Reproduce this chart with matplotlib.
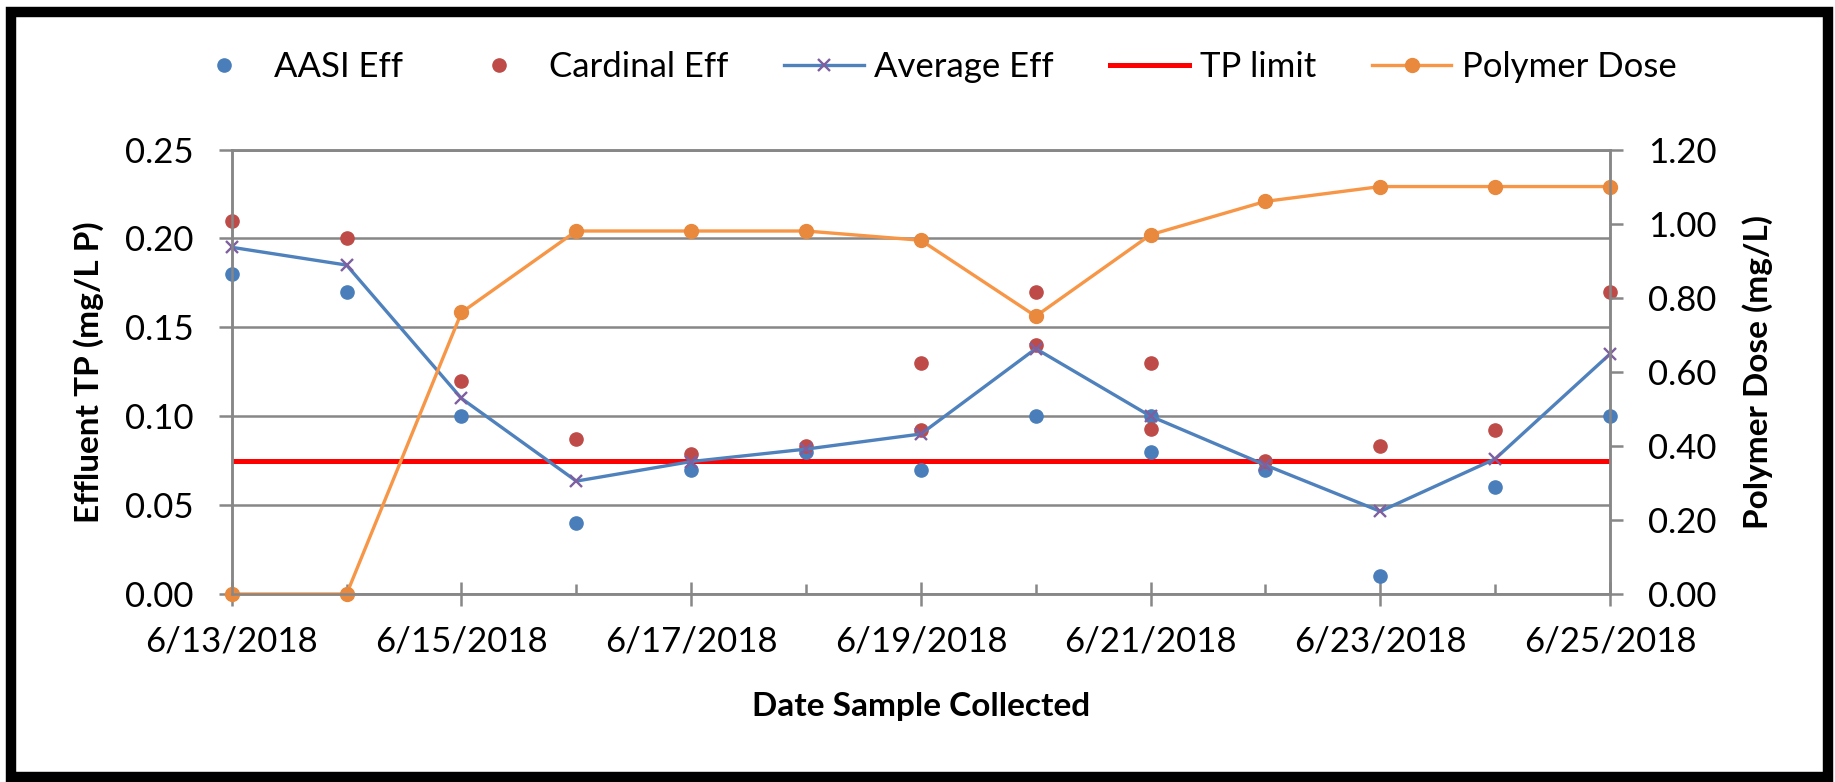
import matplotlib
matplotlib.use('Agg')
import matplotlib.pyplot as plt
import matplotlib.dates as mdates
from matplotlib.patches import Rectangle
from matplotlib.ticker import FuncFormatter, MultipleLocator
import pandas as pd

plt.rcParams['font.family'] = ['Lato', 'DejaVu Sans']

# sample dates (daily)
days = pd.to_datetime(['2018-06-13', '2018-06-14', '2018-06-15', '2018-06-16', '2018-06-17',
                       '2018-06-18', '2018-06-19', '2018-06-20', '2018-06-21', '2018-06-22',
                       '2018-06-23', '2018-06-24', '2018-06-25'])

# AASI effluent TP (6/21 has two samples)
aasi_dates = pd.to_datetime(['2018-06-13', '2018-06-14', '2018-06-15', '2018-06-16', '2018-06-17',
                             '2018-06-18', '2018-06-19', '2018-06-20', '2018-06-21', '2018-06-21',
                             '2018-06-22', '2018-06-23', '2018-06-24', '2018-06-25'])
aasi_vals = [0.18, 0.17, 0.10, 0.04, 0.07, 0.08, 0.07, 0.10, 0.10, 0.08, 0.07, 0.01, 0.06, 0.10]

# Cardinal effluent TP (two samples on 6/19, 6/20, 6/21)
card_dates = pd.to_datetime(['2018-06-13', '2018-06-14', '2018-06-15', '2018-06-16', '2018-06-17',
                             '2018-06-18', '2018-06-19', '2018-06-19', '2018-06-20', '2018-06-20',
                             '2018-06-21', '2018-06-21', '2018-06-22', '2018-06-23', '2018-06-24',
                             '2018-06-25'])
card_vals = [0.21, 0.20, 0.12, 0.087, 0.079, 0.083, 0.13, 0.092, 0.17, 0.14,
             0.13, 0.093, 0.075, 0.083, 0.092, 0.17]

avg_vals = [0.195, 0.185, 0.11, 0.0635, 0.0745, 0.0815, 0.09, 0.138, 0.10, 0.0725, 0.0465, 0.076, 0.135]
tp_limit = 0.075
polymer = [0.0, 0.0, 0.76, 0.98, 0.98, 0.98, 0.955, 0.75, 0.97, 1.06, 1.10, 1.10, 1.10]

grid_c = '#878787'
fs = 25

fig = plt.figure(figsize=(18.35, 7.82), dpi=100)
ax = fig.add_axes([0.1263, 0.2404, 0.7511, 0.5684])
ax2 = ax.twinx()

ax.plot([days[0], days[-1]], [tp_limit, tp_limit], color='#FF0000', lw=3.6, zorder=2, label='TP limit')
ax.plot(aasi_dates, aasi_vals, 'o', color='#4A7EBB', ms=9.5, zorder=3, clip_on=False, label='AASI Eff')
ax.plot(card_dates, card_vals, 'o', color='#BE4B48', ms=9.5, zorder=3, clip_on=False, label='Cardinal Eff')
ax.plot(days, avg_vals, '-', color='#4F81BD', lw=2.4, marker='x', ms=9, mew=1.7,
        mec='#7E5FA0', zorder=4, clip_on=False, label='Average Eff')
ax2.plot(days, polymer, '-', color='#F79646', lw=2.4, marker='o', ms=10, mfc='#E8893D',
         mec='#E8893D', clip_on=False, label='Polymer Dose')

ax.set_xlim(days[0], days[-1])
ax.set_ylim(0, 0.25)
ax2.set_ylim(0, 1.2)
ax.yaxis.set_major_locator(MultipleLocator(0.05))
ax2.yaxis.set_major_locator(MultipleLocator(0.2))
ax.yaxis.set_major_formatter(FuncFormatter(lambda v, p: f'{v:.2f}'))
ax2.yaxis.set_major_formatter(FuncFormatter(lambda v, p: f'{v:.2f}'))

ax.xaxis.set_major_locator(mdates.DayLocator(bymonthday=[13, 15, 17, 19, 21, 23, 25]))
ax.xaxis.set_minor_locator(mdates.DayLocator())
ax.xaxis.set_major_formatter(FuncFormatter(
    lambda v, p: '{0}/{1}/{2}'.format(mdates.num2date(v).month, mdates.num2date(v).day, mdates.num2date(v).year)))

ax.grid(axis='y', color=grid_c, lw=1.8)
ax.set_axisbelow(True)
for a in (ax, ax2):
    for s in a.spines.values():
        s.set_color(grid_c)
        s.set_linewidth(1.8)
ax.tick_params(axis='y', direction='out', length=9.5, width=1.8, color=grid_c, labelsize=fs, pad=18)
ax2.tick_params(axis='y', direction='out', length=9.5, width=1.8, color=grid_c, labelsize=fs, pad=18)
ax.tick_params(axis='x', which='major', direction='inout', length=17, width=1.8, color=grid_c,
               labelsize=fs, pad=14)
ax.tick_params(axis='x', which='minor', direction='in', length=7.5, width=1.8, color=grid_c)

ax.set_ylabel('Effluent TP (mg/L P)', fontsize=24, fontweight='bold', va='center')
ax.yaxis.set_label_coords(-0.104, 0.5)
ax2.set_ylabel('Polymer Dose (mg/L)', fontsize=24, fontweight='bold', va='center', rotation=90)
ax2.yaxis.set_label_coords(1.107, 0.5)
ax.set_xlabel('Date Sample Collected', fontsize=24, fontweight='bold', va='center')
ax.xaxis.set_label_coords(0.5, -0.254)

h1, l1 = ax.get_legend_handles_labels()
h2, l2 = ax2.get_legend_handles_labels()
hd = dict(zip(l1 + l2, h1 + h2))
order = ['AASI Eff', 'Cardinal Eff', 'Average Eff', 'TP limit', 'Polymer Dose']
fig.legend([hd[k] for k in order], order, loc='center', bbox_to_anchor=(0.507, 0.914), ncol=5,
           frameon=False, fontsize=fs, handlelength=2.3, handletextpad=0.3, columnspacing=1.6)

fig.patches.append(Rectangle((10.5 / 1835, 1 - 777 / 782), (1828 - 10.5) / 1835, (777 - 12) / 782,
                             transform=fig.transFigure, fill=False, ec='black', lw=7.5))

fig.savefig('out.png', dpi=100)
